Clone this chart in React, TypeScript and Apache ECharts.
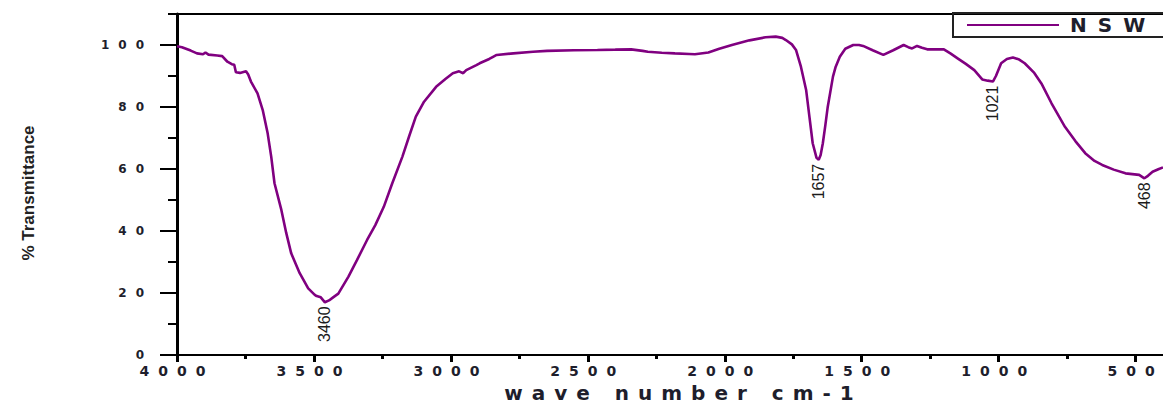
import { useEffect, useRef } from "react";
import * as echarts from "echarts";

// FTIR spectrum of the NSW sample: wavenumber (cm-1) against % transmittance.
const WAVENUMBER = [
  4000, 3982, 3950, 3927, 3905, 3896, 3885, 3853, 3835, 3816, 3800, 3791, 3785, 3770,
  3748, 3740, 3730, 3706, 3687, 3669, 3656, 3644, 3619, 3601, 3583, 3552, 3521, 3497,
  3490, 3475, 3460, 3445, 3430, 3411, 3374, 3343, 3306, 3276, 3245, 3214, 3177, 3153,
  3128, 3098, 3054, 3020, 2993, 2970, 2955, 2944, 2907, 2895, 2860, 2846, 2833, 2772,
  2700, 2649, 2550, 2465, 2400, 2342, 2300, 2281, 2230, 2182, 2130, 2109, 2060, 2020,
  1974, 1910, 1851, 1814, 1790, 1777, 1755, 1740, 1722, 1703, 1691, 1679, 1665, 1657,
  1650, 1642, 1633, 1624, 1605, 1595, 1580, 1560, 1531, 1510, 1495, 1460, 1421, 1385,
  1347, 1330, 1316, 1298, 1280, 1261, 1200, 1175, 1150, 1120, 1089, 1060, 1040, 1021,
  1010, 991, 970, 948, 925, 905, 870, 844, 807, 758, 720, 684, 650, 622,
  580, 537, 487, 468, 455, 438, 415, 400,
];

const TRANSMITTANCE = [
  99.6, 99.3, 98.2, 97.3, 97.0, 97.6, 96.9, 96.6, 96.4, 94.6, 93.8, 93.6, 91.2, 91.0,
  91.5, 90.5, 88.2, 84.4, 79.0, 71.5, 64.0, 55.4, 46.8, 39.3, 32.8, 26.4, 21.5, 19.4,
  19.0, 18.6, 17.0, 17.6, 18.6, 19.8, 25.3, 30.6, 37.1, 41.9, 47.8, 55.4, 64.0, 70.4,
  76.9, 81.7, 86.5, 89.0, 90.9, 91.5, 90.9, 91.9, 93.5, 94.1, 95.5, 96.2, 96.8, 97.3,
  97.8, 98.1, 98.3, 98.4, 98.5, 98.6, 98.1, 97.8, 97.5, 97.3, 97.1, 97.0, 97.6, 98.8,
  100.0, 101.5, 102.5, 102.7, 102.3, 101.6, 100.2, 98.4, 93.0, 85.5, 76.9, 68.3, 63.6, 63.0,
  64.5, 68.3, 74.0, 80.1, 89.8, 93.0, 96.2, 98.8, 100.0, 100.0, 99.7, 98.3, 96.8, 98.3,
  100.0, 99.3, 98.9, 99.7, 99.1, 98.6, 98.6, 97.2, 95.7, 93.9, 91.9, 88.9, 88.5, 88.2,
  90.0, 94.1, 95.5, 96.0, 95.3, 94.1, 91.0, 87.6, 81.2, 73.6, 69.0, 65.1, 62.6, 61.3,
  59.8, 58.6, 58.1, 57.0, 57.8, 59.1, 60.0, 60.5,
];

// Band positions marked on the spectrum
const PEAKS = [3460, 1657, 1021, 468];

const X_MAJOR_TICKS = [500, 1000, 1500, 2000, 2500, 3000, 3500, 4000];
const X_MINOR_TICKS = [750, 1250, 1750, 2250, 2750, 3250, 3750];
const Y_MAJOR_TICKS = [0, 20, 40, 60, 80, 100];
const Y_MINOR_TICKS = [10, 30, 50, 70, 90, 110];

const SERIES_NAME = "NSW";
const X_TITLE = "wave number cm-1";
const Y_TITLE = "% Transmittance";

const LINE_COLOR = "#800080";
const INK = "#1e1e2c";

const WIDE_FONT = "DejaVu Sans";
const LEGEND_FONT = "DejaVu Sans, Verdana";

// Wide-set lettering for the axis numbers, axis title and legend
const css = `
.ftir-chart text[style*="DejaVu Sans"] { letter-spacing: 9px; }
.ftir-chart text[style*="Verdana"] { letter-spacing: 11px; }
`;

export default function App() {
  const ref = useRef<HTMLDivElement>(null);

  useEffect(() => {
    if (!ref.current) return;
    const chart = echarts.init(ref.current, undefined, { renderer: "svg" });

    const data = WAVENUMBER.map((w, i) => {
      const point = [w, TRANSMITTANCE[i]];
      if (!PEAKS.includes(w)) return point;
      return {
        value: point,
        label: {
          show: true,
          position: "bottom",
          distance: 4,
          rotate: 90,
          align: "right",
          verticalAlign: "middle",
          fontFamily: "Liberation Sans Narrow, Liberation Sans, sans-serif",
          fontSize: 16,
          color: "#1c1c1c",
          formatter: (p: any) => String(p.value[0]),
        },
      };
    });

    const xBase = {
      type: "value",
      min: 400,
      max: 4000,
      inverse: true,
      splitLine: { show: false },
    };
    const yBase = {
      type: "value",
      min: 0,
      max: 110,
      position: "left",
      splitLine: { show: false },
    };

    chart.setOption({
      animation: false,
      backgroundColor: "#ffffff",
      grid: {
        left: 177,
        right: 0,
        top: 14,
        bottom: 51,
        containLabel: false,
        outerBoundsMode: "none",
      },
      legend: {
        left: 953,
        top: 13,
        data: [{ name: SERIES_NAME, icon: "rect" }],
        itemWidth: 92,
        itemHeight: 2,
        padding: [2, 60, 2, 14],
        borderColor: "#222222",
        borderWidth: 2,
        selectedMode: false,
        textStyle: {
          fontFamily: LEGEND_FONT,
          fontWeight: "bold",
          fontSize: 20,
          lineHeight: 19,
          color: INK,
          padding: [0, 0, 0, 6],
        },
      },
      xAxis: [
        {
          ...xBase,
          position: "bottom",
          name: X_TITLE,
          nameLocation: "middle",
          nameGap: 28,
          nameTextStyle: {
            fontFamily: WIDE_FONT,
            fontWeight: "bold",
            fontSize: 20,
            color: INK,
            padding: [0, 0, 0, 27],
          },
          axisLine: { show: true, lineStyle: { color: "#000", width: 2 } },
          axisTick: {
            show: true,
            customValues: X_MAJOR_TICKS,
            length: 7,
            lineStyle: { color: "#000", width: 3 },
          },
          axisLabel: {
            show: true,
            customValues: X_MAJOR_TICKS,
            margin: 9,
            fontFamily: WIDE_FONT,
            fontWeight: "bold",
            fontSize: 14,
            color: INK,
            formatter: (v: number) => String(v),
          },
        },
        {
          ...xBase,
          position: "bottom",
          axisLine: { show: false },
          axisTick: {
            show: true,
            customValues: X_MINOR_TICKS,
            length: 4,
            lineStyle: { color: "#000", width: 3 },
          },
          axisLabel: { show: false },
        },
        {
          ...xBase,
          position: "top",
          axisLine: { show: true, lineStyle: { color: "#000", width: 2 } },
          axisTick: { show: false },
          axisLabel: { show: false },
        },
      ],
      yAxis: [
        {
          ...yBase,
          name: Y_TITLE,
          nameLocation: "middle",
          nameRotate: 90,
          nameGap: 140,
          nameTextStyle: {
            fontFamily: "Liberation Sans, Arial, sans-serif",
            fontWeight: "bold",
            fontSize: 17,
            color: "#222",
            padding: [0, 17, 0, 0],
          },
          axisLine: { show: true, lineStyle: { color: "#000", width: 3 } },
          axisTick: {
            show: true,
            customValues: Y_MAJOR_TICKS,
            length: 17,
            lineStyle: { color: "#000", width: 2 },
          },
          axisLabel: {
            show: true,
            customValues: Y_MAJOR_TICKS,
            margin: 24,
            fontFamily: WIDE_FONT,
            fontWeight: "bold",
            fontSize: 12,
            color: INK,
            formatter: (v: number) => String(v),
          },
        },
        {
          ...yBase,
          axisLine: { show: false },
          axisTick: {
            show: true,
            customValues: Y_MINOR_TICKS,
            length: 9,
            lineStyle: { color: "#000", width: 2 },
          },
          axisLabel: { show: false },
        },
      ],
      series: [
        {
          name: SERIES_NAME,
          type: "line",
          xAxisIndex: 0,
          yAxisIndex: 0,
          data,
          color: LINE_COLOR,
          symbol: "circle",
          symbolSize: 0.1,
          showSymbol: true,
          showAllSymbol: true,
          itemStyle: { color: LINE_COLOR },
          lineStyle: { color: LINE_COLOR, width: 2.6 },
          label: { show: false },
          emphasis: { disabled: true },
          clip: true,
        },
      ],
    });

    return () => chart.dispose();
  }, []);

  return (
    <>
      <style>{css}</style>
      <div
        ref={ref}
        className="ftir-chart"
        style={{ position: "fixed", left: 0, top: 0, width: 1163, height: 406 }}
      />
    </>
  );
}
